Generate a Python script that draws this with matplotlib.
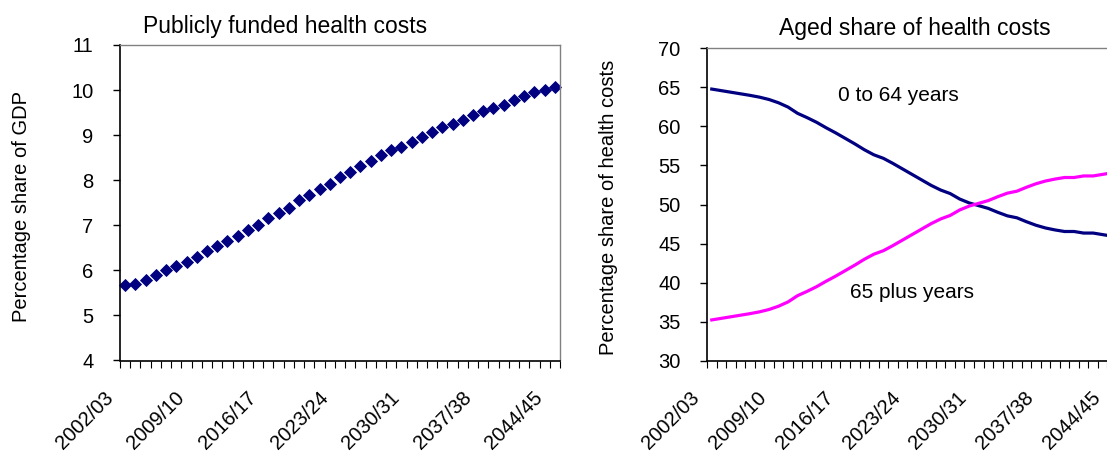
import matplotlib
matplotlib.use("Agg")
import matplotlib.pyplot as plt
import matplotlib.transforms as mtransforms
import numpy as np

plt.rcParams['font.family'] = ['Liberation Sans', 'DejaVu Sans']

# ---- data ----
years = [f"{y}/{str(y + 1)[-2:]}" for y in range(2002, 2045)]  # 2002/03 .. 2044/45

gdp_share = [5.67, 5.70, 5.79, 5.90, 6.00, 6.10, 6.19, 6.30, 6.42, 6.53,
             6.65, 6.76, 6.89, 7.01, 7.16, 7.28, 7.39, 7.55, 7.67, 7.80,
             7.91, 8.07, 8.19, 8.31, 8.42, 8.55, 8.67, 8.74, 8.85, 8.96,
             9.06, 9.17, 9.24, 9.33, 9.44, 9.53, 9.61, 9.67, 9.79, 9.87,
             9.96, 10.00, 10.07]

age_0_64 = [64.75, 64.55, 64.35, 64.15, 63.95, 63.72, 63.42, 63.00, 62.45, 61.65,
            61.10, 60.50, 59.80, 59.15, 58.45, 57.75, 57.00, 56.35, 55.90, 55.25,
            54.55, 53.85, 53.15, 52.45, 51.85, 51.40, 50.70, 50.20, 49.85, 49.50,
            49.00, 48.55, 48.30, 47.80, 47.35, 47.00, 46.75, 46.55, 46.55, 46.35,
            46.35, 46.15, 45.95]

age_65_plus = [35.25, 35.45, 35.65, 35.85, 36.05, 36.28, 36.58, 37.00, 37.55, 38.35,
               38.90, 39.50, 40.20, 40.85, 41.55, 42.25, 43.00, 43.65, 44.10, 44.75,
               45.45, 46.15, 46.85, 47.55, 48.15, 48.60, 49.30, 49.80, 50.15, 50.50,
               51.00, 51.45, 51.70, 52.20, 52.65, 53.00, 53.25, 53.45, 53.45, 53.65,
               53.65, 53.85, 54.05]

label_step = 7
left_title = "Publicly funded health costs"
right_title = "Aged share of health costs"
left_ylabel = "Percentage share of GDP"
right_ylabel = "Percentage share of health costs"

# ---- figure ----
W, H = 1107, 451
fig = plt.figure(figsize=(W / 100, H / 100), dpi=100)
fig.patch.set_facecolor('white')

def px_rect(x0, x1, ytop, ybot):
    return [x0 / W, 1 - ybot / H, (x1 - x0) / W, (ybot - ytop) / H]

axL = fig.add_axes(px_rect(120, 560, 45, 360.5))
axR = fig.add_axes(px_rect(707, 1117, 48, 361))

navy = '#000080'
magenta = '#FF00FF'
grey = '#808080'
tick_fs = 14.5
xlab_fs = 14.5

x = np.arange(len(years))

axL.plot(x, gdp_share, linestyle='none', marker='D', markersize=6,
         color=navy, markeredgecolor=navy, markeredgewidth=0.6, clip_on=False)
axR.plot(x, age_0_64, color=navy, linewidth=2.3, clip_on=True)
axR.plot(x, age_65_plus, color=magenta, linewidth=2.3, clip_on=True)

def style(ax, ylim, ystep):
    ax.set_xlim(-0.5, len(years) - 0.5)
    ax.set_ylim(*ylim)
    ax.set_yticks(np.arange(ylim[0], ylim[1] + 0.001, ystep))
    ax.tick_params(axis='y', direction='out', length=5, width=1, pad=14,
                   labelsize=tick_fs, color='black')
    # category boundary ticks
    ax.set_xticks(np.arange(-0.5, len(years), 1.0), minor=True)
    ax.tick_params(axis='x', which='minor', direction='out', length=5, width=0.8,
                   color='black')
    ax.set_xticks(x[::label_step])
    ax.set_xticklabels([])
    ax.tick_params(axis='x', which='major', length=0)
    for s in ('left', 'bottom'):
        ax.spines[s].set_color('black')
        ax.spines[s].set_linewidth(1.2)
    for s in ('top', 'right'):
        ax.spines[s].set_color(grey)
        ax.spines[s].set_linewidth(1.0)
    # rotated category labels
    offset = mtransforms.ScaledTranslation(-15 / 100, -34 / 100, fig.dpi_scale_trans)
    trans = mtransforms.blended_transform_factory(ax.transData, ax.transAxes) + offset
    for xi in x[::label_step]:
        ax.text(xi, 0, years[xi], transform=trans, rotation=45,
                rotation_mode='anchor', ha='right', va='center',
                fontsize=xlab_fs, clip_on=False)

style(axL, (4, 11), 1)
style(axR, (30, 70), 5)

axR.text(19.55, 63.9, "0 to 64 years", ha='center', va='center', fontsize=15)
axR.text(21.0, 38.75, "65 plus years", ha='center', va='center', fontsize=15)

fig.text(285 / W, 1 - 27 / H, left_title, ha='center', va='center', fontsize=16.5)
fig.text(915 / W, 1 - 28 / H, right_title, ha='center', va='center', fontsize=16.5)
fig.text(22 / W, 1 - 206 / H, left_ylabel, ha='center', va='center',
         rotation=90, fontsize=14.5)
fig.text(608 / W, 1 - 207 / H, right_ylabel, ha='center', va='center',
         rotation=90, fontsize=14.5)

fig.savefig('out.png', dpi=100, facecolor='white')
